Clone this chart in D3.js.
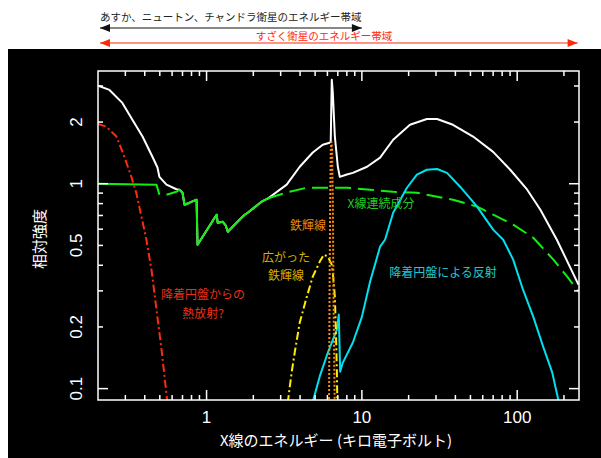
<!DOCTYPE html>
<html>
<head>
<meta charset="utf-8">
<script src="https://cdn.jsdelivr.net/npm/d3@7"></script>
<style>
  body { margin: 0; background: #fff; }
  text { font-family: "Liberation Sans", "Noto Sans CJK JP", sans-serif; }
  .jp { font-family: "Noto Sans CJK JP", sans-serif; }
</style>
</head>
<body>
<div id="chart"></div>
<script>
// energy (keV) / relative intensity
const totalE = [0.2, 0.237, 0.287, 0.333, 0.387, 0.449, 0.483, 0.497, 0.552, 0.64, 0.67, 0.70, 0.721, 0.777, 0.862, 0.875, 1.16, 1.18, 1.27, 1.33, 1.37, 1.63, 1.76, 1.84, 2.26, 2.47, 3.28, 3.98, 4.83, 5.60, 6.12, 6.30, 6.40, 6.50, 6.70, 7.00, 7.21, 8.0, 8.75, 10.8, 13.1, 15.9, 20.4, 26.2, 30.5, 38.6, 52.0, 70.0, 90.2, 116, 141, 180, 248];
const totalV = [3.01, 2.87, 2.48, 2.05, 1.70, 1.35, 1.20, 1.08, 0.99, 0.94, 0.935, 0.904, 0.79, 0.808, 0.836, 0.504, 0.706, 0.645, 0.653, 0.624, 0.583, 0.667, 0.706, 0.722, 0.817, 0.845, 0.99, 1.21, 1.42, 1.55, 1.58, 1.60, 3.22, 2.78, 1.70, 1.21, 1.08, 1.11, 1.13, 1.21, 1.34, 1.64, 1.94, 2.07, 2.07, 1.94, 1.70, 1.43, 1.17, 0.935, 0.747, 0.533, 0.322];

const contLowE = [0.2, 0.476, 0.497];
const contLowV = [1.0, 0.99, 0.884];
const contMidE = [0.552, 0.64, 0.67, 0.70, 0.721, 0.777, 0.862, 0.875, 1.16, 1.18, 1.27, 1.33, 1.37, 1.63, 1.76, 1.84, 2.26, 2.47];
const contMidV = [0.884, 0.914, 0.935, 0.904, 0.79, 0.808, 0.836, 0.504, 0.706, 0.645, 0.653, 0.624, 0.583, 0.667, 0.706, 0.722, 0.817, 0.845];
const contHighE = [2.47, 2.67, 3.43, 4.42, 5.94, 8.0, 11.3, 15.9, 22.6, 26.2, 38.6, 55.2, 70, 94.2, 127, 171, 210, 248];
const contHighV = [0.845, 0.864, 0.914, 0.956, 0.956, 0.956, 0.935, 0.914, 0.904, 0.884, 0.836, 0.773, 0.706, 0.631, 0.545, 0.426, 0.352, 0.297];

const diskE = [0.2, 0.226, 0.263, 0.296, 0.328, 0.353, 0.381, 0.41, 0.442, 0.476, 0.513, 0.56];
const diskV = [1.96, 1.90, 1.70, 1.35, 1.08, 0.90, 0.69, 0.533, 0.38, 0.243, 0.155, 0.085];

const broadE = [3.33, 3.53, 3.70, 3.98, 4.42, 4.83, 5.36, 5.69, 6.04, 6.40, 6.50, 6.70, 6.80, 6.90, 6.95];
const broadV = [0.085, 0.120, 0.151, 0.210, 0.281, 0.352, 0.417, 0.451, 0.441, 0.403, 0.368, 0.281, 0.194, 0.124, 0.085];

const lineE = [6.15, 6.19, 6.25, 6.31, 6.37, 6.43, 6.50, 6.57, 6.68];
const lineV = [0.085, 0.272, 0.836, 1.47, 1.60, 1.47, 0.836, 0.272, 0.085];

const reflE = [4.8, 5.36, 6.04, 6.90, 7.10, 7.25, 7.54, 8.75, 10.0, 11.3, 13.1, 14.1, 15.9, 19.5, 22.6, 26.2, 30.5, 35.3, 42.9, 55.2, 70.0, 81.3, 94.2, 109, 127, 147, 168, 186];
const reflV = [0.085, 0.115, 0.150, 0.194, 0.230, 0.121, 0.134, 0.168, 0.224, 0.333, 0.493, 0.533, 0.722, 0.956, 1.107, 1.17, 1.18, 1.13, 0.967, 0.773, 0.597, 0.533, 0.426, 0.304, 0.224, 0.160, 0.120, 0.085];

const xTickLabels = [1, 10, 100];
const yTickLabels = [0.1, 0.2, 0.5, 1, 2];

// instrument bands (keV) shown above the plot
const bandNames = ["あすか、ニュートン、チャンドラ衛星のエネルギー帯域", "すざく衛星のエネルギー帯域"];
const bandLo = [0.2, 0.2];
const bandHi = [10, 245];

const W = 601, H = 458;
const plot = {left: 98, right: 579, top: 71, bottom: 400};

var svg = d3.select("#chart")
  .append("svg")
    .attr("width", W)
    .attr("height", H);

svg.append("rect").attr("width", W).attr("height", H).attr("fill", "#fff");
svg.append("rect")
  .attr("x", 8).attr("y", 49)
  .attr("width", W - 8).attr("height", H - 49)
  .attr("fill", "#000");

var x = d3.scaleLog().domain([0.2, 250]).range([plot.left, plot.right]);
var y = d3.scaleLog().domain([0.088, 3.55]).range([plot.bottom, plot.top]);

svg.append("clipPath").attr("id", "clip")
  .append("rect")
    .attr("x", plot.left).attr("y", plot.top)
    .attr("width", plot.right - plot.left).attr("height", plot.bottom - plot.top);

var line = d3.line()
  .x(d => x(d[0]))
  .y(d => y(d[1]));

function pairs(es, vs) { return es.map((e, i) => [e, vs[i]]); }

var g = svg.append("g").attr("clip-path", "url(#clip)");

function curve(es, vs, color, dash, width) {
  g.append("path")
    .datum(pairs(es, vs))
    .attr("fill", "none")
    .attr("stroke", color)
    .attr("stroke-width", width || 2)
    .attr("stroke-linejoin", "round")
    .attr("stroke-dasharray", dash)
    .attr("d", line);
}

curve(totalE, totalV, "#ffffff", null);
curve(contLowE, contLowV, "#11ee11", null);
curve(contMidE, contMidV, "#11ee11", null);
curve(contHighE, contHighV, "#11ee11", "16,7");
curve(diskE, diskV, "#ff2a0a", "8,3,2,3");
curve(reflE, reflV, "#00e0f0", null);
curve(broadE, broadV, "#ffee00", "8,3,2,3");
curve(lineE, lineV, "#ff8c00", "2,2");

// frame + ticks (inward)
svg.append("rect")
  .attr("x", plot.left).attr("y", plot.top)
  .attr("width", plot.right - plot.left).attr("height", plot.bottom - plot.top)
  .attr("fill", "none").attr("stroke", "#fff").attr("stroke-width", 1.5);

var isMajor = v => Math.abs(Math.log10(v) - Math.round(Math.log10(v))) < 1e-6;
var xt = x.ticks().filter(v => v > 0.2 && v < 250);
var yt = y.ticks().filter(v => v >= 0.1);

var ticks = svg.append("g").attr("stroke", "#fff").attr("stroke-width", 1.5);
xt.forEach(function(v) {
  var len = isMajor(v) ? 10 : 5;
  ticks.append("line").attr("x1", x(v)).attr("x2", x(v)).attr("y1", plot.bottom).attr("y2", plot.bottom - len);
  ticks.append("line").attr("x1", x(v)).attr("x2", x(v)).attr("y1", plot.top).attr("y2", plot.top + len);
});
yt.forEach(function(v) {
  var len = isMajor(v) ? 10 : 5;
  ticks.append("line").attr("y1", y(v)).attr("y2", y(v)).attr("x1", plot.left).attr("x2", plot.left + len);
  ticks.append("line").attr("y1", y(v)).attr("y2", y(v)).attr("x1", plot.right).attr("x2", plot.right - len);
});

svg.append("g").selectAll("text")
  .data(xTickLabels)
  .enter().append("text")
    .attr("x", d => x(d))
    .attr("y", 423)
    .attr("text-anchor", "middle")
    .attr("fill", "#fff")
    .style("font-size", "17px")
    .text(d => d);

svg.append("g").selectAll("text")
  .data(yTickLabels)
  .enter().append("text")
    .attr("transform", d => "translate(82," + y(d) + ") rotate(-90)")
    .attr("text-anchor", "middle")
    .attr("fill", "#fff")
    .style("font-size", "17px")
    .text(d => d);

svg.append("text")
  .attr("class", "jp")
  .attr("x", 336).attr("y", 446)
  .attr("text-anchor", "middle")
  .attr("fill", "#fff")
  .style("font-size", "15px")
  .text("X線のエネルギー (キロ電子ボルト)");

svg.append("text")
  .attr("class", "jp")
  .attr("transform", "translate(45,239) rotate(-90)")
  .attr("text-anchor", "middle")
  .attr("fill", "#fff")
  .style("font-size", "15px")
  .text("相対強度");

// annotations
var notes = [
  {t: "鉄輝線", x: 308, y: 230, c: "#e88a10"},
  {t: "X線連続成分", x: 381, y: 208, c: "#22cc22"},
  {t: "広がった", x: 286, y: 262, c: "#d8b000"},
  {t: "鉄輝線", x: 286, y: 280, c: "#d8b000"},
  {t: "降着円盤からの", x: 203, y: 299, c: "#e83018"},
  {t: "熱放射?", x: 203, y: 318, c: "#e83018"},
  {t: "降着円盤による反射", x: 443, y: 277, c: "#22c8d0"}
];
svg.append("g").selectAll("text")
  .data(notes)
  .enter().append("text")
    .attr("class", "jp")
    .attr("x", d => d.x)
    .attr("y", d => d.y)
    .attr("text-anchor", "middle")
    .attr("fill", d => d.c)
    .style("font-size", "12px")
    .text(d => d.t);

// band arrows
var bandY = [28, 43];
var bandColor = ["#111", "#ff2a0a"];
bandNames.forEach(function(name, i) {
  var x0 = x(bandLo[i]) + 2, x1 = x(bandHi[i]), yy = bandY[i];
  svg.append("line")
    .attr("x1", x0).attr("x2", x1).attr("y1", yy).attr("y2", yy)
    .attr("stroke", bandColor[i]).attr("stroke-width", 1.2);
  svg.append("path")
    .attr("d", "M" + x0 + "," + yy + "l10,-4l0,8z")
    .attr("fill", bandColor[i]);
  svg.append("path")
    .attr("d", "M" + x1 + "," + yy + "l-10,-4l0,8z")
    .attr("fill", bandColor[i]);
  svg.append("text")
    .attr("class", "jp")
    .attr("x", i == 0 ? x0 : 324)
    .attr("y", i == 0 ? 21 : 40)
    .attr("text-anchor", i == 0 ? "start" : "middle")
    .attr("fill", i == 0 ? "#222" : "#ff2a0a")
    .style("font-size", "10.5px")
    .text(name);
});
</script>
</body>
</html>
